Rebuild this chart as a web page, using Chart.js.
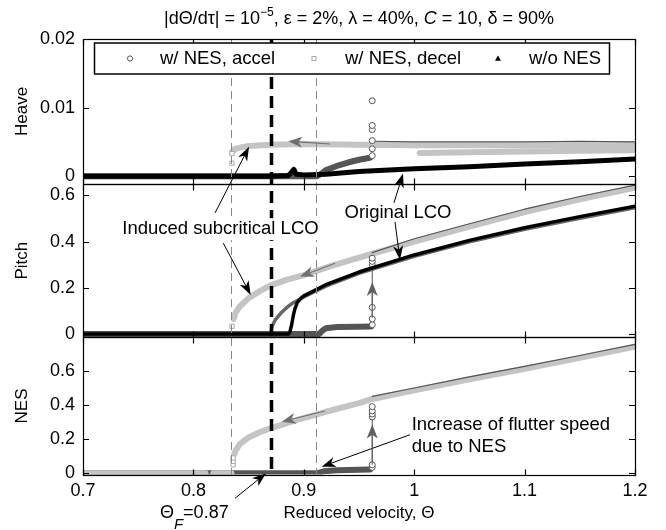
<!DOCTYPE html>
<html>
<head>
<meta charset="utf-8">
<script src="https://cdn.jsdelivr.net/npm/chart.js@4.4.1/dist/chart.umd.min.js"></script>
<style>
html,body{margin:0;padding:0;background:#fff;}
canvas{display:block;}
</style>
</head>
<body>
<canvas id="chart" width="666" height="530"></canvas>
<script>
// ---------------- data ----------------
const xTicks = [0.7, 0.8, 0.9, 1.0, 1.1, 1.2];
const heaveTicks = [0, 0.01, 0.02];
const pitchTicks = [0, 0.2, 0.4, 0.6];
const nesTicks = [0, 0.2, 0.4, 0.6];
const legendLabels = ['w/ NES, accel', 'w/ NES, decel', 'w/o NES'];
const markerLines = [0.834, 0.87, 0.911];   // dashed verticals (thin, Θ_F, thin)

// Heave panel
const heaveWo = [[0.7,0],[0.87,0],[0.886,0.0001],[0.889,0.0006],[0.891,0.0010],[0.893,0.0003],[0.9,0.0002],[0.92,0.0003],[0.95,0.0007],[1.0,0.0011],[1.05,0.0014],[1.1,0.0018],[1.15,0.0021],[1.2,0.0025]];
const heaveAccel = [[0.7,0],[0.912,0],[0.916,0.0004],[0.92,0.0009],[0.93,0.0015],[0.94,0.0020],[0.95,0.0024],[0.96,0.0027]];
const heaveAccelJump = [[0.962,0.0030],[0.962,0.0040],[0.962,0.0052],[0.962,0.0068],[0.962,0.0074],[0.962,0.0110]];
const heaveAccelPost = [[0.962,0.0051],[1.0,0.0050],[1.05,0.0050],[1.1,0.0050],[1.15,0.0051],[1.2,0.0050]];
const heaveDecel = [[0.7,0],[0.834,0],[0.8345,null],[0.835,0.0035],[0.837,0.0039],[0.84,0.0041],[0.85,0.0044],[0.87,0.0046],[0.9,0.0047],[0.95,0.0046],[1.0,0.0045],[1.05,0.0045],[1.1,0.0045],[1.15,0.0046],[1.2,0.0046],[1.2001,null],[1.005,0.0034],[1.05,0.0035],[1.1,0.0036],[1.15,0.0037],[1.2,0.0038]];
const heaveDecelPts = [[0.835,0.0019],[0.835,0.0033]];

// Pitch panel
const pitchWo = [[0.7,0],[0.886,0],[0.8875,0.01],[0.889,0.04],[0.8905,0.08],[0.892,0.11],[0.894,0.135],[0.897,0.153],[0.9,0.165],[0.92,0.213],[0.95,0.268],[1.0,0.342],[1.05,0.405],[1.1,0.46],[1.15,0.508],[1.2,0.553]];
const pitchRef = [[0.87,0],[0.871,0.03],[0.874,0.06],[0.88,0.094],[0.885,0.116],[0.89,0.134],[0.9,0.16],[0.92,0.207],[0.95,0.262],[1.0,0.336],[1.05,0.399],[1.1,0.453],[1.15,0.501],[1.2,0.546]];
const pitchAccel = [[0.7,0],[0.914,0],[0.917,0.015],[0.92,0.025],[0.93,0.03],[0.95,0.031],[0.961,0.032]];
const pitchAccelJump = [[0.962,0.04],[0.962,0.065],[0.962,0.115],[0.962,0.300],[0.962,0.314],[0.962,0.328]];
const pitchAccelPost = [[0.962,0.352],[1.0,0.412],[1.05,0.477],[1.1,0.540],[1.15,0.595],[1.2,0.644]];
const pitchDecel = [[0.7,0],[0.834,0],[0.835,null],[0.8365,0.065],[0.838,0.09],[0.842,0.119],[0.85,0.155],[0.86,0.185],[0.87,0.21],[0.885,0.235],[0.9,0.255],[0.925,0.295],[0.95,0.33],[0.975,0.365],[1.0,0.40],[1.05,0.465],[1.1,0.528],[1.15,0.583],[1.2,0.633]];
const pitchDecelPts = [[0.835,0.033]];

// NES panel
const nesAccel = [[0.7,0],[0.912,0],[0.918,0.012],[0.93,0.018],[0.96,0.022]];
const nesAccelJump = [[0.962,0.035],[0.962,0.05],[0.962,0.33],[0.962,0.347],[0.962,0.365],[0.962,0.39]];
const nesAccelPost = [[0.962,0.450],[1.0,0.499],[1.05,0.564],[1.1,0.626],[1.15,0.689],[1.2,0.754]];
const nesDecel = [[0.7,0],[0.811,0],[0.8145,null],[0.818,0],[0.8345,0],[0.835,null],[0.837,0.11],[0.838,0.13],[0.842,0.17],[0.85,0.21],[0.86,0.24],[0.87,0.263],[0.89,0.305],[0.92,0.36],[0.95,0.41],[0.962,0.435],[1.0,0.485],[1.05,0.55],[1.1,0.612],[1.15,0.675],[1.2,0.74]];
const nesDecelPts = [[0.836,0.05],[0.836,0.07],[0.836,0.09]];

// ---------------- styling ----------------
const FONT = '"Liberation Sans", Arial, Helvetica, sans-serif';
const LG = '#c4c4c4';
const DG = '#555555';
Chart.defaults.font.family = FONT;
Chart.defaults.color = '#000';

function pts(a) { return a.map(p => ({x: p[0], y: p[1]})); }
function lineDS(label, data, axis, color, width, order) {
  return {label, data: pts(data), yAxisID: axis, showLine: true, borderColor: color,
    borderWidth: width, pointRadius: 0, borderCapStyle: 'round', borderJoinStyle: 'round',
    spanGaps: false, order, fill: false};
}
function markDS(label, data, axis, style, color, radius, order, showLine) {
  return {label, data: pts(data), yAxisID: axis, showLine: !!showLine, borderColor: color,
    borderWidth: 1, pointStyle: style, pointRadius: radius, pointBorderColor: color,
    pointBackgroundColor: '#fff', pointBorderWidth: 1, order};
}

const datasets = [
  lineDS('heave decel', heaveDecel, 'yH', LG, 6, 30),
  markDS('heave decel pts', heaveDecelPts, 'yH', 'rect', '#aaa', 3, 29),
  lineDS('heave accel', heaveAccel, 'yH', DG, 6, 20),
  lineDS('heave accel post', heaveAccelPost, 'yH', DG, 1.2, 19),
  markDS('heave accel jump', heaveAccelJump, 'yH', 'circle', DG, 3, 18),
  lineDS('heave w/o', heaveWo, 'yH', '#000', 5, 10),

  lineDS('pitch decel', pitchDecel, 'yP', LG, 6, 30),
  markDS('pitch decel pts', pitchDecelPts, 'yP', 'rect', '#aaa', 3, 29),
  lineDS('pitch accel', pitchAccel, 'yP', DG, 6, 20),
  lineDS('pitch accel post', pitchAccelPost, 'yP', DG, 1.2, 19),
  markDS('pitch accel jump', pitchAccelJump, 'yP', 'circle', DG, 3, 18, true),
  lineDS('pitch ref', pitchRef, 'yP', '#666', 3.5, 12),
  lineDS('pitch w/o', pitchWo, 'yP', '#000', 3.5, 10),

  lineDS('nes accel', nesAccel, 'yN', DG, 6, 25),
  lineDS('nes decel', nesDecel, 'yN', LG, 6, 22),
  markDS('nes decel pts', nesDecelPts, 'yN', 'rect', '#aaa', 3, 21),
  lineDS('nes accel post', nesAccelPost, 'yN', DG, 1.2, 19),
  markDS('nes accel jump', nesAccelJump, 'yN', 'circle', DG, 3, 18, true),
];

// annotation arrows (data coordinates, axis ids)
const arrowSpecs = [
  {x0:0.8196, a0:'yP', y0:0.524, x1:0.8504, a1:'yH', y1:0.0043, c:'#000'},
  {x0:0.8271, a0:'yP', y0:0.393, x1:0.8519, a1:'yP', y1:0.169, c:'#000'},
  {x0:0.9817, a0:'yP', y0:0.568, x1:0.9899, a1:'yH', y1:0.0004, c:'#000'},
  {x0:0.9826, a0:'yP', y0:0.485, x1:0.9871, a1:'yP', y1:0.321, c:'#000'},
  {x0:0.9962, a0:'yN', y0:0.2256, x1:0.9162, a1:'yN', y1:0.0387, c:'#000'},
  {x0:0.8377, a0:'yN', y0:-0.146, x1:0.8658, a1:'yN', y1:0.0, c:'#000'},
  {x0:0.9237, a0:'yH', y0:0.0047, x1:0.8860, a1:'yH', y1:0.0051, c:'#707070'},
  {x0:0.9283, a0:'yP', y0:0.3065, x1:0.8966, a1:'yP', y1:0.2484, c:'#707070'},
  {x0:0.9192, a0:'yN', y0:0.3648, x1:0.8800, a1:'yN', y1:0.302, c:'#707070'},
  {x0:0.962, a0:'yP', y0:0.07, x1:0.962, a1:'yP', y1:0.225, c:'#606060'},
  {x0:0.962, a0:'yN', y0:0.05, x1:0.962, a1:'yN', y1:0.285, c:'#606060'},
];
const textSpecs = [
  {t:'Induced subcritical LCO', x:0.8245, a:'yP', y:0.4538, align:'center'},
  {t:'Original LCO', x:0.9853, a:'yP', y:0.5231, align:'center'},
  {t:'Increase of flutter speed', x:0.9977, a:'yN', y:0.2828, align:'left'},
  {t:'due to NES', x:0.9977, a:'yN', y:0.1523, align:'left'},
];

function drawArrow(ctx, x0, y0, x1, y1, color, lw, L, W) {
  const a = Math.atan2(y1 - y0, x1 - x0), c = Math.cos(a), s = Math.sin(a);
  const back = L * 0.72;
  ctx.save();
  ctx.strokeStyle = color; ctx.fillStyle = color; ctx.lineWidth = lw;
  ctx.beginPath(); ctx.moveTo(x0, y0); ctx.lineTo(x1 - c * back, y1 - s * back); ctx.stroke();
  ctx.beginPath();
  ctx.moveTo(x1, y1);
  ctx.lineTo(x1 - c * L - s * W, y1 - s * L + c * W);
  ctx.lineTo(x1 - c * back, y1 - s * back);
  ctx.lineTo(x1 - c * L + s * W, y1 - s * L - c * W);
  ctx.closePath(); ctx.fill();
  ctx.restore();
}

function drawRich(ctx, parts, cx, baseline, align) {
  let total = 0;
  for (const p of parts) { ctx.font = p.f; total += ctx.measureText(p.t).width; }
  let x = align === 'left' ? cx : cx - total / 2;
  ctx.textAlign = 'left'; ctx.textBaseline = 'alphabetic';
  for (const p of parts) {
    ctx.font = p.f; ctx.fillText(p.t, x, baseline + (p.dy || 0));
    x += ctx.measureText(p.t).width;
  }
}

const framePlugin = {
  id: 'frame',
  afterDatasetsDraw(chart) {
    const ctx = chart.ctx, ca = chart.chartArea, sx = chart.scales.x;
    ctx.save();
    // dashed verticals
    markerLines.forEach((v, i) => {
      const px = Math.round(sx.getPixelForValue(v)) + 0.5;
      ctx.beginPath();
      if (i === 1) { ctx.strokeStyle = '#000'; ctx.lineWidth = 3.5; ctx.setLineDash([12, 7]); }
      else { ctx.strokeStyle = '#888'; ctx.lineWidth = 1; ctx.setLineDash([8, 5]); }
      ctx.moveTo(px, ca.top); ctx.lineTo(px, ca.bottom); ctx.stroke();
    });
    ctx.setLineDash([]);
    // panel frames + inward ticks
    const panels = [['yH', heaveTicks], ['yP', pitchTicks], ['yN', nesTicks]];
    ctx.strokeStyle = '#000'; ctx.lineWidth = 1.2;
    for (const [id, tv] of panels) {
      const s = chart.scales[id];
      const t = Math.round(s.top) + 0.5, b = Math.round(s.bottom) + 0.5;
      ctx.strokeRect(Math.round(ca.left) + 0.5, t, Math.round(ca.right) - Math.round(ca.left), b - t);
      ctx.beginPath();
      for (const v of xTicks) {
        const px = Math.round(sx.getPixelForValue(v)) + 0.5;
        ctx.moveTo(px, t); ctx.lineTo(px, t + 6);
        ctx.moveTo(px, b); ctx.lineTo(px, b - 6);
      }
      for (const v of tv) {
        const py = Math.round(s.getPixelForValue(v)) + 0.5;
        ctx.moveTo(ca.left, py); ctx.lineTo(ca.left + 6, py);
        ctx.moveTo(ca.right, py); ctx.lineTo(ca.right - 6, py);
      }
      ctx.stroke();
    }
    ctx.restore();
  },
  afterDraw(chart) {
    const ctx = chart.ctx, ca = chart.chartArea, sx = chart.scales.x;
    const X = v => sx.getPixelForValue(v);
    const Y = (a, v) => chart.scales[a].getPixelForValue(v);
    ctx.save();
    // legend box
    ctx.fillStyle = '#fff';
    ctx.fillRect(94.5, 43, 515, 31);
    ctx.strokeStyle = '#000'; ctx.lineWidth = 1.5;
    ctx.strokeRect(94.5, 43, 515, 31);
    const ly = 58.5;
    const mk = [130, 314, 498], tx = [160, 345, 529];
    ctx.lineWidth = 1;
    ctx.strokeStyle = DG; ctx.beginPath(); ctx.arc(mk[0], ly, 2.6, 0, Math.PI * 2); ctx.stroke();
    ctx.strokeStyle = '#aaa'; ctx.strokeRect(mk[1] - 2, ly - 2, 4, 4);
    ctx.fillStyle = '#000'; ctx.beginPath();
    ctx.moveTo(mk[2], ly - 3); ctx.lineTo(mk[2] + 3, ly + 2.2); ctx.lineTo(mk[2] - 3, ly + 2.2); ctx.closePath(); ctx.fill();
    ctx.fillStyle = '#000'; ctx.font = '18.5px ' + FONT; ctx.textBaseline = 'middle'; ctx.textAlign = 'left';
    legendLabels.forEach((l, i) => ctx.fillText(l, tx[i], ly));

    // title
    ctx.fillStyle = '#000';
    const f = '18px ' + FONT, fs = '12px ' + FONT, fi = 'italic 18px ' + FONT;
    drawRich(ctx, [
      {t: '|dΘ/dτ| = 10', f}, {t: '−5', f: fs, dy: -8},
      {t: ', ε = 2%, λ = 40%, ', f}, {t: 'C', f: fi}, {t: ' = 10, δ = 90%', f}
    ], (ca.left + ca.right) / 2, 24, 'center');

    // annotation texts (white background like the reference)
    ctx.font = '18.5px ' + FONT; ctx.textBaseline = 'middle';
    for (const s of textSpecs) {
      const px = X(s.x), py = Y(s.a, s.y);
      const w = ctx.measureText(s.t).width;
      const left = s.align === 'center' ? px - w / 2 : px;
      ctx.fillStyle = '#fff';
      ctx.fillRect(left - 2, py - 11, w + 4, 22);
      ctx.fillStyle = '#000';
      ctx.textAlign = s.align;
      ctx.fillText(s.t, px, py);
    }
    // Θ_F label
    const thY = Y('yN', -0.2248);
    drawRich(ctx, [
      {t: 'Θ', f}, {t: 'F', f: 'italic 15px ' + FONT, dy: 11}, {t: '=0.87', f}
    ], X(0.7697), thY + 6.5, 'left');

    // arrows
    for (const a of arrowSpecs) {
      const black = a.c === '#000';
      drawArrow(ctx, X(a.x0), Y(a.a0, a.y0), X(a.x1), Y(a.a1, a.y1), a.c,
        black ? 1 : 1.1, 14, black ? 5 : 5.5);
    }
    ctx.restore();
  }
};

function fmt(v) { return String(+v.toFixed(3)); }
function yAxis(min, max, ticks, title, weight, sw) {
  return {
    type: 'linear', position: 'left', stack: 'panels', stackWeight: sw, weight,
    min, max,
    grid: {display: false, drawTicks: false}, border: {display: false},
    ticks: {font: {size: 18, family: FONT}, color: '#000', padding: 8, autoSkip: false, callback: fmt},
    afterBuildTicks: s => { s.ticks = ticks.map(v => ({value: v})); },
    afterFit: s => { s.width = 83; },
    title: {display: true, text: title, font: {size: 17, family: FONT}, color: '#000', padding: {top: 12, bottom: 0}}
  };
}

new Chart(document.getElementById('chart').getContext('2d'), {
  type: 'scatter',
  data: {datasets},
  options: {
    responsive: false, animation: false, devicePixelRatio: 1,
    layout: {padding: {top: 39, right: 31, left: 0, bottom: 0}},
    plugins: {legend: {display: false}, title: {display: false}, tooltip: {enabled: false}},
    scales: {
      x: {
        type: 'linear', position: 'bottom', min: 0.7, max: 1.2,
        grid: {display: false, drawTicks: false}, border: {display: false},
        ticks: {font: {size: 18, family: FONT}, color: '#000', padding: 6, autoSkip: false, maxRotation: 0, callback: fmt},
        afterBuildTicks: s => { s.ticks = xTicks.map(v => ({value: v})); },
        afterFit: s => { s.height = 55.5; },
        title: {display: true, text: 'Reduced velocity, Θ', font: {size: 17, family: FONT}, color: '#000', padding: {top: 0, bottom: 6}}
      },
      yH: yAxis(-0.0011, 0.02, heaveTicks, 'Heave', 3, 144.7),
      yP: yAxis(-0.015, 0.65, pitchTicks, 'Pitch', 2, 153.5),
      yN: yAxis(-0.007, 0.795, nesTicks, 'NES', 1, 137)
    }
  },
  plugins: [framePlugin]
});
</script>
</body>
</html>
